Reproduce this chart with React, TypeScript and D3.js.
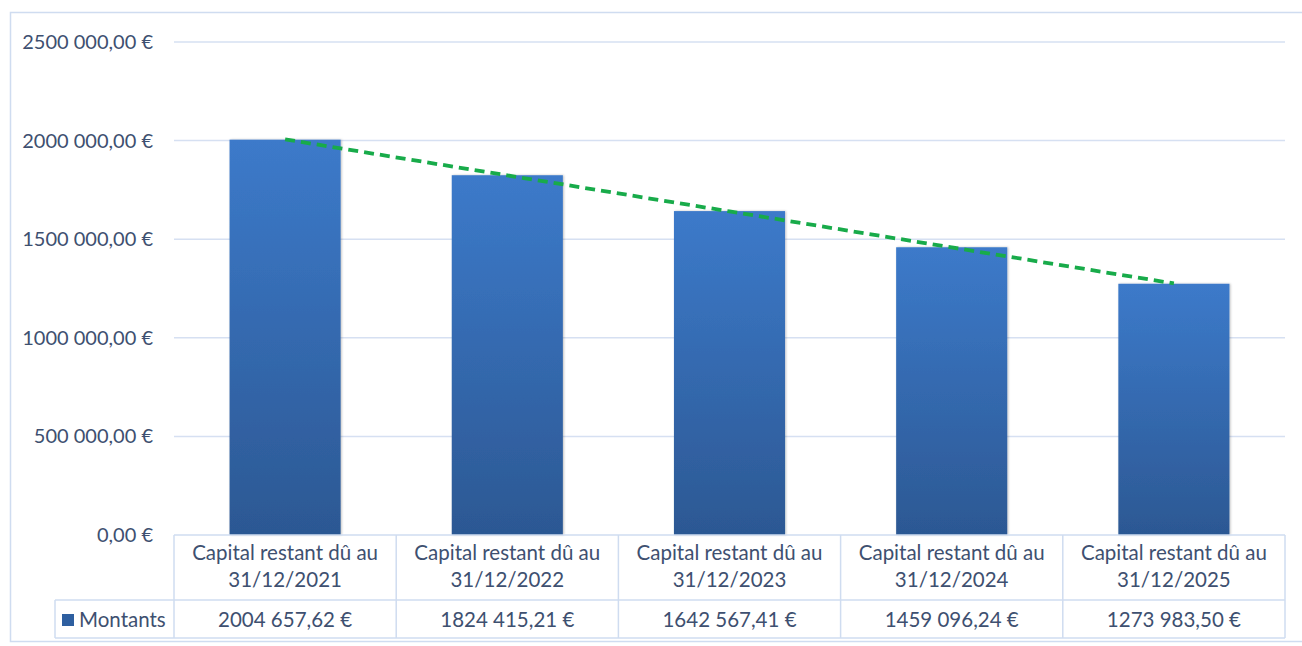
import React from "react";
import * as d3 from "d3";

const categoryLine1 = ["Capital restant dû au", "Capital restant dû au", "Capital restant dû au", "Capital restant dû au", "Capital restant dû au"];
const categoryLine2 = ["31/12/2021", "31/12/2022", "31/12/2023", "31/12/2024", "31/12/2025"];
const values = [2004657.62, 1824415.21, 1642567.41, 1459096.24, 1273983.5];
const valueLabels = ["2004 657,62 €", "1824 415,21 €", "1642 567,41 €", "1459 096,24 €", "1273 983,50 €"];
const tickValues = [0, 500000, 1000000, 1500000, 2000000, 2500000];
const tickLabels = ["0,00 €", "500 000,00 €", "1000 000,00 €", "1500 000,00 €", "2000 000,00 €", "2500 000,00 €"];
const seriesName = "Montants";

const W = 1302, H = 646;
const plotLeft = 174, plotRight = 1285, plotTop = 42, plotBottom = 535;
const row1Bottom = 600, row2Bottom = 638, legendLeft = 55;
const textColor = "#3e5070";
const lineColor = "#cfdcf0";
const font = "Lato, 'Open Sans', sans-serif";

export default function App() {
  const x = d3.scaleBand<number>().domain(d3.range(values.length)).range([plotLeft, plotRight]).paddingInner(0.5).paddingOuter(0.25);
  const y = d3.scaleLinear().domain([0, 2500000]).range([plotBottom, plotTop]);
  const col = d3.scaleBand<number>().domain(d3.range(values.length)).range([plotLeft, plotRight]);

  // linear trendline (least squares)
  const n = values.length;
  const xs = d3.range(n);
  const mx = d3.mean(xs)!;
  const my = d3.mean(values)!;
  const slope = d3.sum(xs, (i) => (i - mx) * (values[i] - my)) / d3.sum(xs, (i) => (i - mx) ** 2);
  const intercept = my - slope * mx;
  const trend = xs.map((i) => [x(i)! + x.bandwidth() / 2, y(intercept + slope * i)] as [number, number]);
  const line = d3.line();

  return (
    <svg width={W} height={H} style={{ position: "absolute", left: 0, top: 0, background: "#fff" }} fontFamily={font}>
      <defs>
        <linearGradient id="barGrad" x1="0" y1="0" x2="0" y2="1">
          <stop offset="0" stopColor="#3c7aca" />
          <stop offset="1" stopColor="#2c5893" />
        </linearGradient>
        <filter id="shadow" x="-10%" y="-10%" width="120%" height="120%">
          <feDropShadow dx="1" dy="0" stdDeviation="1.2" floodColor="#000" floodOpacity="0.25" />
        </filter>
      </defs>
      <rect x={10.5} y={12.5} width={1310} height={629} fill="none" stroke={lineColor} strokeWidth={1.5} />
      {tickValues.map((t, i) => (
        <g key={t}>
          {t > 0 && <line x1={plotLeft} x2={plotRight} y1={y(t)} y2={y(t)} stroke="#d6e0f2" strokeWidth={1.5} />}
          <text x={153} y={y(t)} dy="0.35em" textAnchor="end" fontSize={20} fill={textColor}>{tickLabels[i]}</text>
        </g>
      ))}
      {values.map((v, i) => (
        <rect key={i} x={x(i)} y={y(v)} width={x.bandwidth()} height={plotBottom - y(v)} fill="url(#barGrad)" filter="url(#shadow)" />
      ))}
      <path d={line(trend)!} fill="none" stroke="#18ab4a" strokeWidth={3.8} strokeDasharray="10 6" />
      {/* data table */}
      <g stroke={lineColor} strokeWidth={1.5} fill="none">
        <line x1={plotLeft} x2={plotRight} y1={plotBottom} y2={plotBottom} />
        <line x1={legendLeft} x2={plotRight} y1={row1Bottom} y2={row1Bottom} />
        <line x1={legendLeft} x2={plotRight} y1={row2Bottom} y2={row2Bottom} />
        <line x1={legendLeft} x2={legendLeft} y1={row1Bottom} y2={row2Bottom} />
        {d3.range(n + 1).map((i) => {
          const xx = i < n ? col(i)! : plotRight;
          return <line key={i} x1={xx} x2={xx} y1={plotBottom} y2={row2Bottom} />;
        })}
      </g>
      {values.map((v, i) => {
        const cx = col(i)! + col.bandwidth() / 2;
        return (
          <g key={i} fontSize={20.5} fill={textColor} textAnchor="middle">
            <text x={cx} y={553} dy="0.35em">{categoryLine1[i]}</text>
            <text x={cx} y={580} dy="0.35em">{categoryLine2[i]}</text>
            <text x={cx} y={620} dy="0.35em">{valueLabels[i]}</text>
          </g>
        );
      })}
      <rect x={62} y={614} width={12} height={12} fill="#2e5fa0" />
      <text x={79} y={620} dy="0.35em" fontSize={20.5} fill={textColor}>{seriesName}</text>
    </svg>
  );
}
